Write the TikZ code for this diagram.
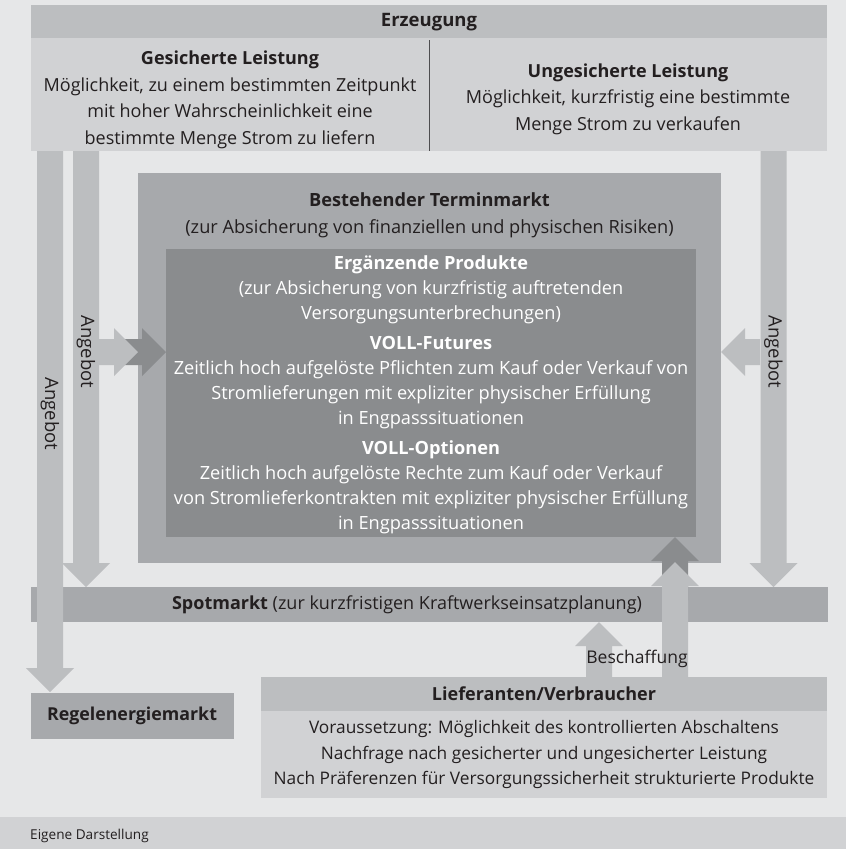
\documentclass[tikz,border=0pt]{standalone}
\usepackage{fontspec}
\setmainfont{Open Sans}
\usetikzlibrary{calc}
\definecolor{bgc}{HTML}{E6E7E8}
\definecolor{lt}{HTML}{D1D2D4}
\definecolor{ml}{HTML}{BCBEC0}
\definecolor{md}{HTML}{A7A9AC}
\definecolor{dk}{HTML}{8A8C8E}
\definecolor{ink}{HTML}{231F20}
\definecolor{divc}{HTML}{4D4D4F}
% block arrows (y axis points down): #1 colour, #2 start, #3 tip
\newcommand{\arrD}[3]{\fill[#1] ($(#2)+(-13,0)$) -- ($(#3)+(-13,-24)$) -- ($(#3)+(-24,-24)$) -- (#3) -- ($(#3)+(24,-24)$) -- ($(#3)+(13,-24)$) -- ($(#2)+(13,0)$) -- cycle;}
\newcommand{\arrU}[3]{\fill[#1] ($(#2)+(-13,0)$) -- ($(#3)+(-13,24)$) -- ($(#3)+(-24,24)$) -- (#3) -- ($(#3)+(24,24)$) -- ($(#3)+(13,24)$) -- ($(#2)+(13,0)$) -- cycle;}
\newcommand{\arrR}[3]{\fill[#1] ($(#2)+(0,-13)$) -- ($(#3)+(-24,-13)$) -- ($(#3)+(-24,-24)$) -- (#3) -- ($(#3)+(-24,24)$) -- ($(#3)+(-24,13)$) -- ($(#2)+(0,13)$) -- cycle;}
\newcommand{\arrL}[3]{\fill[#1] ($(#2)+(0,-13)$) -- ($(#3)+(24,-13)$) -- ($(#3)+(24,-24)$) -- (#3) -- ($(#3)+(24,24)$) -- ($(#3)+(24,13)$) -- ($(#2)+(0,13)$) -- cycle;}
\begin{document}
\begin{tikzpicture}[x=1pt,y=-1pt,
  blk/.style={rectangle,inner sep=0pt,outer sep=0pt,anchor=north west},
  txt/.style={text=ink,align=center,inner sep=0pt},
  big/.style={font=\fontsize{18}{26.5}\selectfont},
  mid/.style={font=\fontsize{18.2}{25}\selectfont},
  lab/.style={font=\fontsize{17.5}{20}\selectfont}]
\useasboundingbox (0,0) rectangle (846,849);
% boxes
\node[blk,fill=bgc,minimum width=846pt,minimum height=849pt] (bg) at (0,0) {};
\node[blk,fill=lt,minimum width=846pt,minimum height=32pt] (foot) at (0,817) {};
\node[blk,fill=ml,minimum width=796pt,minimum height=33pt] (erz) at (31,5) {};
\node[blk,fill=lt,minimum width=398pt,minimum height=113pt] (ges) at (31,38) {};
\node[blk,fill=lt,minimum width=398pt,minimum height=113pt] (unges) at (429,38) {};
\draw[line width=0.9pt,divc] ($(ges.north east)+(0,2)$) -- (ges.south east);
\node[blk,fill=md,minimum width=583pt,minimum height=390pt] (term) at (138,173) {};
\node[blk,fill=dk,minimum width=530pt,minimum height=288pt] (inner) at (166,249) {};
\node[blk,fill=md,minimum width=797pt,minimum height=35pt] (spot) at (31,587) {};
\node[blk,fill=md,minimum width=203pt,minimum height=46pt] (regel) at (31,693) {};
\node[blk,fill=ml,minimum width=566pt,minimum height=34pt] (liefh) at (261,677) {};
\node[blk,fill=lt,minimum width=566pt,minimum height=87pt] (liefb) at (261,711) {};
% arrow end points
\coordinate (o1) at (50,151);    \coordinate (o2) at (50,692);
\coordinate (i1) at (86,151);    \coordinate (i2) at (86,587);
\coordinate (r1) at (773.5,151); \coordinate (r2) at (773.5,587);
\coordinate (hl1) at (99,352);   \coordinate (hl2) at (138,352);
\coordinate (hd1) at (118,352);  \coordinate (hd2) at (166,352);
\coordinate (hr1) at (760,352);  \coordinate (hr2) at (721,352);
\coordinate (bd1) at (675,600);  \coordinate (bd2) at (675,537);
\coordinate (bl1) at (675,677);  \coordinate (bl2) at (675,562);
\coordinate (s1) at (599,677);   \coordinate (s2) at (599,622);
% dark arrows
\arrR{dk}{hd1}{hd2}
\arrU{dk}{bd1}{bd2}
% light arrows
\arrD{ml}{o1}{o2}
\arrD{ml}{i1}{i2}
\arrD{ml}{r1}{r2}
\arrR{ml}{hl1}{hl2}
\arrL{ml}{hr1}{hr2}
\arrU{ml}{bl1}{bl2}
\arrU{ml}{s1}{s2}
% texts
\node[txt,font=\bfseries\fontsize{18.5}{20}\selectfont] (terz) at (429,22) {Erzeugung};
\node[txt,big] (tges) at (230,100) {\textbf{Gesicherte Leistung}\\Möglichkeit, zu einem bestimmten Zeitpunkt\\mit hoher Wahrscheinlichkeit eine\\bestimmte Menge Strom zu liefern};
\node[txt,big] (tunges) at (628,99) {\textbf{Ungesicherte Leistung}\\Möglichkeit, kurzfristig eine bestimmte\\Menge Strom zu verkaufen};
\node[txt,font=\fontsize{18.2}{27}\selectfont] (tterm) at (429.5,215) {\textbf{Bestehender Terminmarkt}\\(zur Absicherung von finanziellen und physischen Risiken)};
\node[txt,mid,text=white] (tg1) at (431,290) {\textbf{Ergänzende Produkte}\\(zur Absicherung von kurzfristig auftretenden\\Versorgungsunterbrechungen)};
\node[txt,mid,text=white] (tg2) at (431,383) {\textbf{VOLL-Futures}\\Zeitlich hoch aufgelöste Pflichten zum Kauf oder Verkauf von\\Stromlieferungen mit expliziter physischer Erfüllung\\in Engpasssituationen};
\node[txt,mid,text=white] (tg3) at (431,487.5) {\textbf{VOLL-Optionen}\\Zeitlich hoch aufgelöste Rechte zum Kauf oder Verkauf\\von Stromlieferkontrakten mit expliziter physischer Erfüllung\\in Engpasssituationen};
\node[txt,font=\fontsize{18}{20}\selectfont] (tspot) at (407,605) {\textbf{Spotmarkt} (zur kurzfristigen Kraftwerkseinsatzplanung)};
\node[txt,font=\bfseries\fontsize{17.8}{20}\selectfont] (tregel) at (132,716) {Regelenergiemarkt};
\node[txt,font=\bfseries\fontsize{18}{20}\selectfont] (tliefh) at (544,694) {Lieferanten/Verbraucher};
\node[txt,font=\fontsize{17.3}{25.5}\selectfont] (tliefb) at (544,754.5) {Voraussetzung: Möglichkeit des kontrollierten Abschaltens\\Nachfrage nach gesicherter und ungesicherter Leistung\\Nach Präferenzen für Versorgungssicherheit strukturierte Produkte};
\node[txt,lab] (tbes) at (637,659) {Beschaffung};
\node[txt,font=\fontsize{18.5}{20}\selectfont,rotate=-90] (ang1) at (50,414) {Angebot};
\node[txt,font=\fontsize{18.5}{20}\selectfont,rotate=-90] (ang2) at (86,352) {Angebot};
\node[txt,font=\fontsize{18.5}{20}\selectfont,rotate=-90] (ang3) at (773.5,352) {Angebot};
\node[txt,anchor=west,font=\fontsize{13.6}{15}\selectfont] (tfoot) at (30,836) {Eigene Darstellung};
\end{tikzpicture}
\end{document}
